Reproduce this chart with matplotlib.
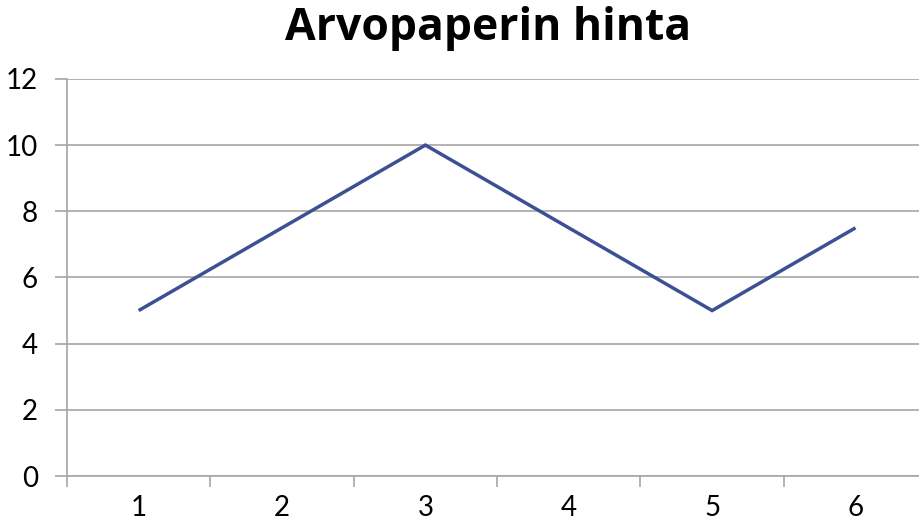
import matplotlib
matplotlib.use("Agg")
import matplotlib.pyplot as plt
import numpy as np

plt.rcParams['font.family'] = ['Lato', 'DejaVu Sans']

periods = [1, 2, 3, 4, 5, 6]
price = [5, 7.5, 10, 7.5, 5, 7.5]
y_ticks = [0, 2, 4, 6, 8, 10, 12]

grid_col = "#a6a6a6"

fig = plt.figure(figsize=(9.2, 5.26), dpi=100)
ax = fig.add_axes([0.0728, 0.095, 0.935, 0.755])

ax.plot(periods, price, color="#3b5193", linewidth=2.5, solid_capstyle="butt",
        solid_joinstyle="miter", zorder=3)

ax.set_xlim(0.5, 6.5)
ax.set_ylim(0, 12)
ax.set_yticks(y_ticks)
ax.set_yticklabels([str(v) for v in y_ticks])

# category boundaries get the tick marks, labels sit in the middle
ax.set_xticks(np.arange(0.5, 7.0, 1.0))
ax.set_xticklabels([])
ax.set_xticks(periods, minor=True)
ax.set_xticklabels([str(p) for p in periods], minor=True)
ax.tick_params(axis="x", which="major", length=8, width=1.2, color=grid_col, direction="out")
ax.tick_params(axis="x", which="minor", length=0, pad=14, labelsize=20)
ax.tick_params(axis="y", length=9, width=1.2, color=grid_col, direction="out", pad=12,
               labelsize=20)

ax.grid(axis="y", color=grid_col, linewidth=1.2)
ax.set_axisbelow(True)
for side in ["top", "right"]:
    ax.spines[side].set_visible(False)
for side in ["left", "bottom"]:
    ax.spines[side].set_color(grid_col)
    ax.spines[side].set_linewidth(1.2)

fig.text(0.53, 0.945, "Arvopaperin hinta", ha="center", va="center",
         fontsize=32, fontweight="bold", family=["Open Sans", "DejaVu Sans"])

fig.savefig("out.png", dpi=100)
